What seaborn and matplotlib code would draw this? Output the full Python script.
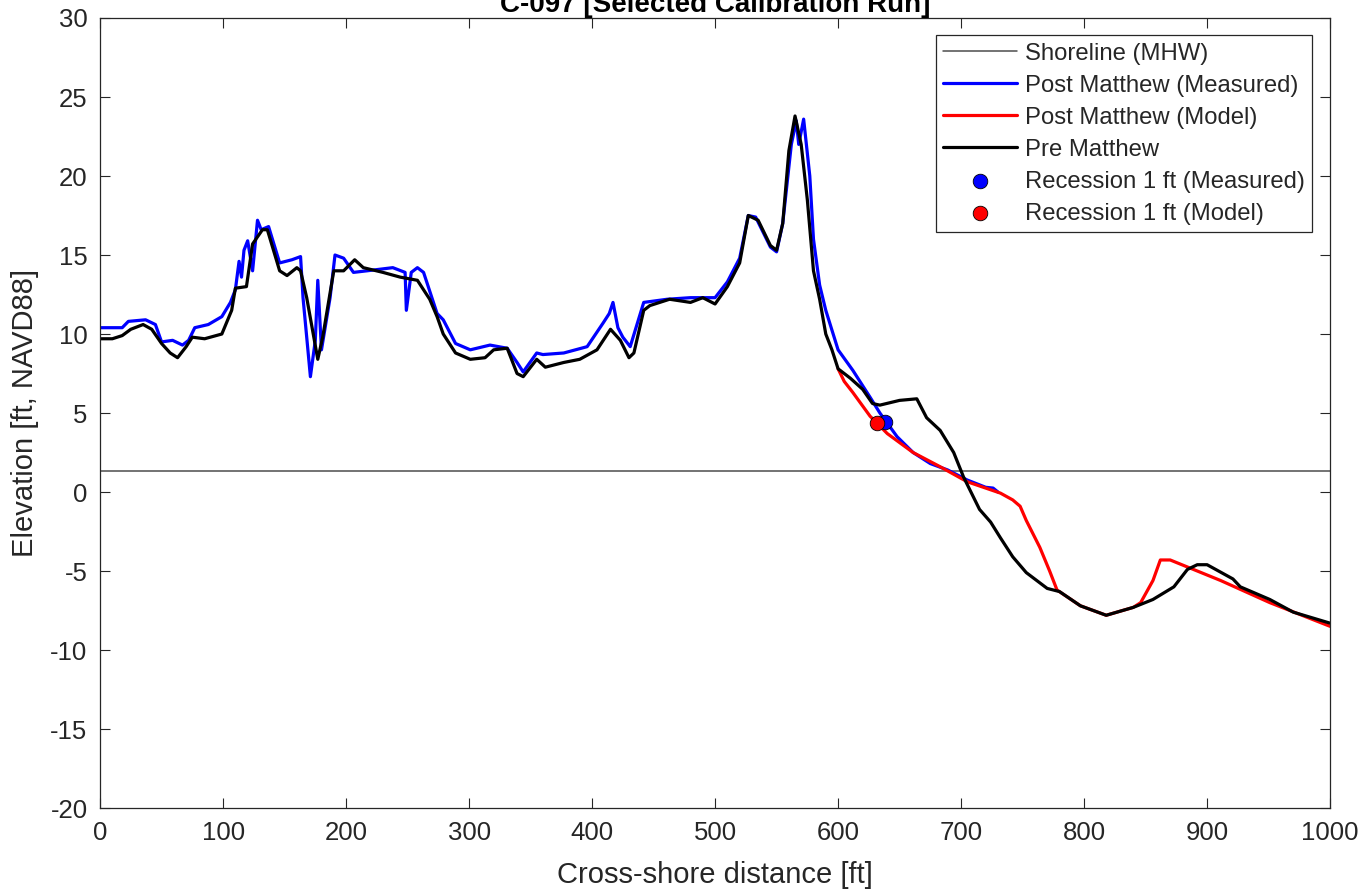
import pandas as pd
import matplotlib
matplotlib.use("Agg")
import matplotlib.pyplot as plt
import seaborn as sns

# --- DATA ---
pre_x = [0, 10, 18, 25, 35, 42, 50, 57, 63, 70, 75, 85, 99, 107, 110, 119, 124, 132, 136,
         146, 152, 160, 163, 168, 177, 181, 190, 198, 207, 214, 230, 244, 258, 268, 274, 279,
         289, 301, 313, 320, 331, 339, 344, 355, 362, 377, 390, 404, 415, 423, 430, 434, 442,
         447, 463, 480, 490, 500, 510, 520, 527, 535, 545, 550, 555, 560, 565, 570, 575, 580,
         585, 590, 595, 600, 610, 620, 628, 634, 650, 664, 672, 683, 694, 702, 715, 724, 732,
         742, 753, 770, 780, 797, 818, 840, 856, 873, 884, 892, 900, 921, 927, 951, 970, 1000]
pre_y = [9.7, 9.7, 9.9, 10.3, 10.6, 10.3, 9.4, 8.8, 8.5, 9.2, 9.8, 9.7, 10.0, 11.5, 12.9, 13.0,
         15.7, 16.6, 16.6, 14.0, 13.7, 14.2, 14.0, 12.3, 8.4, 9.8, 14.0, 14.0, 14.7, 14.2, 13.9,
         13.6, 13.4, 12.2, 11.1, 10.0, 8.8, 8.4, 8.5, 9.0, 9.1, 7.5, 7.3, 8.4, 7.9, 8.2, 8.4,
         9.0, 10.3, 9.6, 8.5, 8.8, 11.5, 11.8, 12.2, 12.0, 12.3, 11.9, 13.0, 14.5, 17.5, 17.2,
         15.6, 15.3, 17.0, 21.6, 23.8, 22.0, 18.5, 14.0, 12.2, 10.0, 9.0, 7.8, 7.2, 6.5, 5.6,
         5.5, 5.8, 5.9, 4.7, 3.9, 2.5, 0.95, -1.1, -1.9, -2.9, -4.1, -5.1, -6.1, -6.3, -7.2,
         -7.8, -7.3, -6.8, -6.0, -4.9, -4.6, -4.6, -5.5, -6.0, -6.8, -7.6, -8.3]

meas_x = [0, 10, 18, 23, 37, 45, 50, 59, 67, 72, 77, 88, 99, 106, 110, 113, 115, 117, 120, 124,
          128, 131, 137, 146, 156, 163, 165, 171, 175, 177, 180, 187, 191, 198, 206, 217, 238,
          248, 249, 253, 258, 263, 274, 279, 289, 301, 317, 331, 339, 344, 355, 360, 377, 396,
          409, 414, 417, 421, 425, 431, 442, 461, 480, 500, 510, 520, 527, 533, 545, 550, 555,
          562, 566, 568, 572, 577, 580, 585, 590, 600, 612, 626, 634, 648, 661, 675, 689, 705,
          720, 726, 730]
meas_y = [10.4, 10.4, 10.4, 10.8, 10.9, 10.6, 9.5, 9.6, 9.3, 9.6, 10.4, 10.6, 11.1, 12.0, 12.8,
          14.6, 13.6, 15.3, 15.9, 14.0, 17.2, 16.6, 16.8, 14.5, 14.7, 14.9, 12.3, 7.3, 9.6, 13.4,
          9.0, 12.3, 15.0, 14.8, 13.9, 14.0, 14.2, 13.9, 11.5, 13.9, 14.2, 13.9, 11.3, 10.9, 9.4,
          9.0, 9.3, 9.1, 8.2, 7.6, 8.8, 8.7, 8.8, 9.2, 10.7, 11.3, 12.0, 10.4, 9.8, 9.2, 12.0,
          12.2, 12.3, 12.3, 13.3, 14.8, 17.5, 17.4, 15.5, 15.2, 17.0, 22.0, 23.5, 22.0, 23.6,
          20.0, 16.0, 13.1, 11.5, 9.0, 7.7, 6.0, 5.0, 3.5, 2.5, 1.8, 1.4, 0.76, 0.3, 0.25, 0.0]

model_x = [600, 605, 612, 626, 640, 661, 683, 705, 732, 742, 748, 753, 764, 772, 778, 797,
           818, 840, 846, 856, 862, 870, 911, 951, 1000]
model_y = [7.8, 7.0, 6.3, 4.8, 3.7, 2.5, 1.6, 0.65, -0.07, -0.5, -0.9, -1.8, -3.5, -5.0, -6.2,
           -7.2, -7.8, -7.3, -7.0, -5.6, -4.3, -4.3, -5.6, -7.0, -8.5]

mhw = 1.36
rec_meas = (638, 4.45)
rec_model = (632, 4.35)

# --- STYLE ---
sns.set_theme(style="white")
plt.rcParams['font.family'] = ['Liberation Sans', 'DejaVu Sans']
plt.rcParams['axes.unicode_minus'] = False
plt.rcParams['axes.edgecolor'] = '#262626'
plt.rcParams['xtick.color'] = '#262626'
plt.rcParams['ytick.color'] = '#262626'

fig = plt.figure(figsize=(13.67, 8.91), dpi=100)
ax = fig.add_axes([0.0732, 0.0931, 0.8998, 0.8867])

ax.axhline(mhw, color='#4d4d4d', linewidth=1.1, label='Shoreline (MHW)')
sns.lineplot(x=meas_x, y=meas_y, ax=ax, color='#0000ff', linewidth=2.3,
             sort=False, estimator=None, label='Post Matthew (Measured)')
sns.lineplot(x=model_x, y=model_y, ax=ax, color='#ff0000', linewidth=2.3,
             sort=False, estimator=None, label='Post Matthew (Model)')
sns.lineplot(x=pre_x, y=pre_y, ax=ax, color='black', linewidth=2.3,
             sort=False, estimator=None, label='Pre Matthew')
sns.scatterplot(x=[rec_meas[0]], y=[rec_meas[1]], ax=ax, color='#0000ff', s=110,
                edgecolor='black', linewidth=0.6, zorder=5, label='Recession 1 ft (Measured)')
sns.scatterplot(x=[rec_model[0]], y=[rec_model[1]], ax=ax, color='#ff0000', s=110,
                edgecolor='black', linewidth=0.6, zorder=5, label='Recession 1 ft (Model)')

ax.set_xlim(0, 1000)
ax.set_ylim(-20, 30)
ax.set_xticks(range(0, 1001, 100))
ax.set_yticks(range(-20, 31, 5))
ax.tick_params(direction='in', length=7, width=0.8, labelsize=18.5, top=True, right=True,
               bottom=True, left=True, pad=9)
for s in ax.spines.values():
    s.set_linewidth(0.9)
ax.set_xlabel('Cross-shore distance [ft]', fontsize=21, color='#262626', labelpad=12)
ax.set_ylabel('Elevation [ft, NAVD88]', fontsize=21, color='#262626', labelpad=8)

leg = ax.legend(loc='upper right', bbox_to_anchor=(0.985, 0.978), borderaxespad=0,
                fontsize=17.2, handlelength=3.1, handletextpad=0.3, borderpad=0.3,
                labelspacing=0.42, frameon=True, fancybox=False, edgecolor='#262626',
                framealpha=1)
leg.get_frame().set_linewidth(0.9)

fig.text(0.5 * (0.0732 + 0.973), 0.9865, 'C-097 [Selected Calibration Run]',
         ha='center', va='baseline', fontsize=20, fontweight='bold', color='black')

fig.savefig('out.png', dpi=100)
